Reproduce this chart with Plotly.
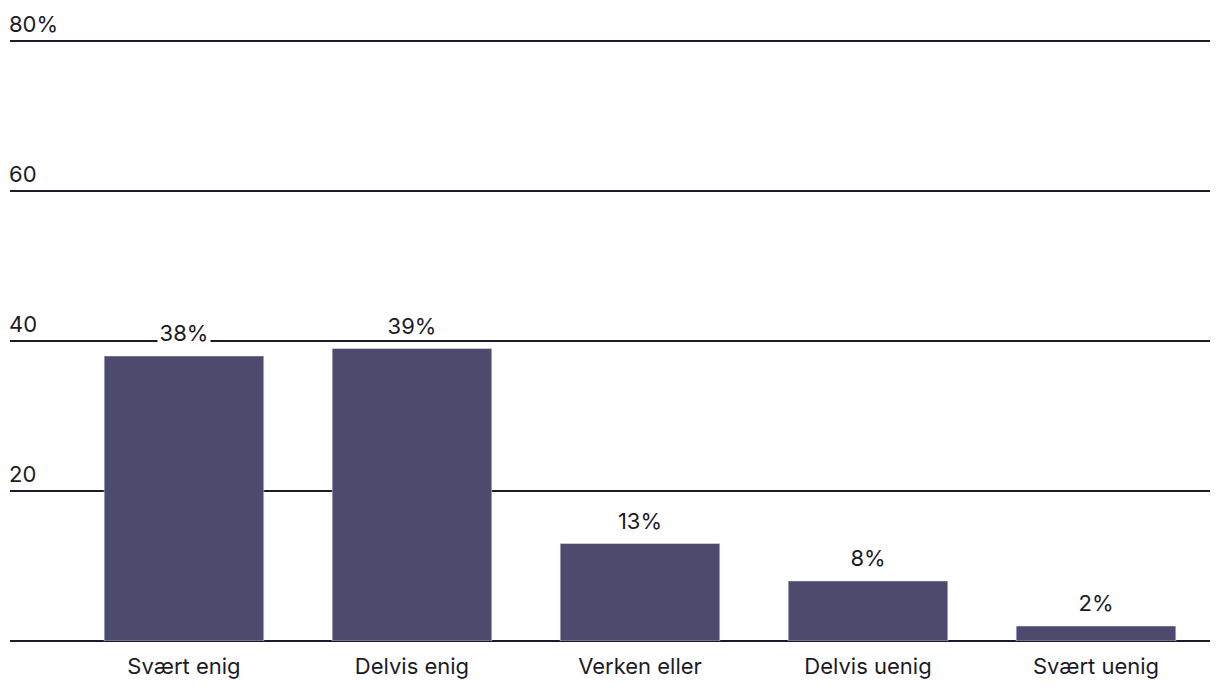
import plotly.graph_objects as go

categories = ["Svært enig", "Delvis enig", "Verken eller", "Delvis uenig", "Svært uenig"]
values = [38, 39, 13, 8, 2]
labels = ["38%", "39%", "13%", "8%", "2%"]
tick_vals = [20, 40, 60, 80]
tick_text = ["20", "40", "60", "80%"]

bar_color = "#4e4a6e"
ink = "#1c1b27"
font_family = "Inter, Open Sans, sans-serif"
fsize = 22

fig = go.Figure()
fig.add_trace(go.Bar(
    x=categories, y=values, marker_color=bar_color, width=0.70,
    hoverinfo="skip",
))

for c, v, t in zip(categories, values, labels):
    fig.add_annotation(
        x=c, y=v, text=t, showarrow=False, yanchor="middle", yshift=23,
        bgcolor="white", borderpad=1, height=20, width=50,
        font=dict(family=font_family, size=fsize, color=ink),
    )

# y tick labels sit above their gridlines, at the left edge
for tv, tt in zip(tick_vals, tick_text):
    fig.add_annotation(
        xref="paper", x=0, y=tv, text=tt, showarrow=False,
        xanchor="left", yanchor="middle", yshift=17, xshift=-3,
        font=dict(family=font_family, size=fsize, color=ink),
    )

# page body has an 8px default margin; the figure is sized to fill the rest
fig.update_layout(
    width=1212, height=688,
    margin=dict(l=2, r=10, t=3, b=55),
    plot_bgcolor="white", paper_bgcolor="white",
    showlegend=False,
    font=dict(family=font_family, size=fsize, color=ink),
    xaxis=dict(
        range=[-0.763, 4.5], showgrid=False, zeroline=False, showline=False,
        ticks="", tickfont=dict(size=fsize, color=ink), automargin=False,
        ticklabelstandoff=10,
    ),
    yaxis=dict(
        range=[0, 84], tickvals=tick_vals, showticklabels=False,
        showgrid=True, gridcolor=ink, gridwidth=2,
        zeroline=True, zerolinecolor=ink, zerolinewidth=2,
        ticks="", showline=False, automargin=False,
    ),
)

fig.write_html("out.html")
